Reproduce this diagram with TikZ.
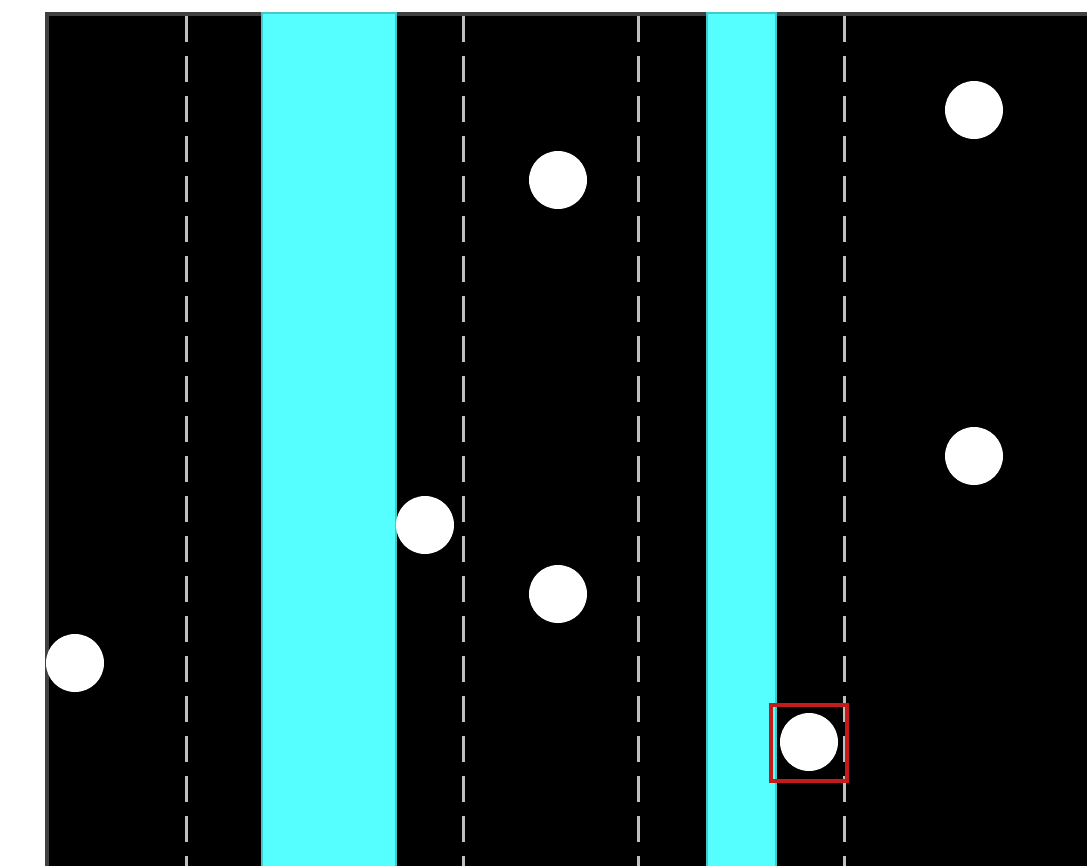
\documentclass[tikz,border=0pt]{standalone}
\begin{document}
\begin{tikzpicture}[x=0.75pt,y=-0.75pt,
  dot/.style={circle,fill=white,draw=none,inner sep=0pt,minimum size=43.5pt},
  lane/.style={draw=white!75!black,line width=2.25pt,dash pattern=on 19.5pt off 10.5pt},
  stripe/.style={fill=cyanfill,draw=cyanedge,line width=1.5pt},
  marker/.style={draw=markred,line width=3.5pt,inner sep=0pt,minimum size=57pt,fill=none}]
\definecolor{cyanfill}{HTML}{55FFFF}
\definecolor{cyanedge}{HTML}{44C8C8}
\definecolor{markred}{HTML}{C41A1A}
\definecolor{bordergrey}{HTML}{404040}
\useasboundingbox (0,0) rectangle (1087,865);
\clip (0,0) rectangle (1087,865);
\fill[white] (0,0) rectangle (1087,865);
\fill[black] (45,12) rectangle (1100,880);
\draw[bordergrey,line width=3pt] (47,880) -- (47,14) -- (1100,14);
\draw[stripe] (262,13) rectangle (396,880);
\draw[stripe] (707,13) rectangle (776,880);
\coordinate (l1t) at (186,16); \coordinate (l1b) at (186,870);
\coordinate (l2t) at (463,16); \coordinate (l2b) at (463,870);
\coordinate (l3t) at (638,16); \coordinate (l3b) at (638,870);
\coordinate (l4t) at (844,16); \coordinate (l4b) at (844,870);
\draw[lane] (l1t) -- (l1b);
\draw[lane] (l2t) -- (l2b);
\draw[lane] (l3t) -- (l3b);
\draw[lane] (l4t) -- (l4b);
\node[dot] (c1) at (974,110) {};
\node[dot] (c2) at (558,180) {};
\node[dot] (c3) at (974,456) {};
\node[dot] (c4) at (425,525) {};
\node[dot] (c5) at (558,594) {};
\node[dot] (c6) at (75,663) {};
\node[dot] (c7) at (809,742) {};
\node[marker] (m) at (809,743) {};
\end{tikzpicture}
\end{document}
